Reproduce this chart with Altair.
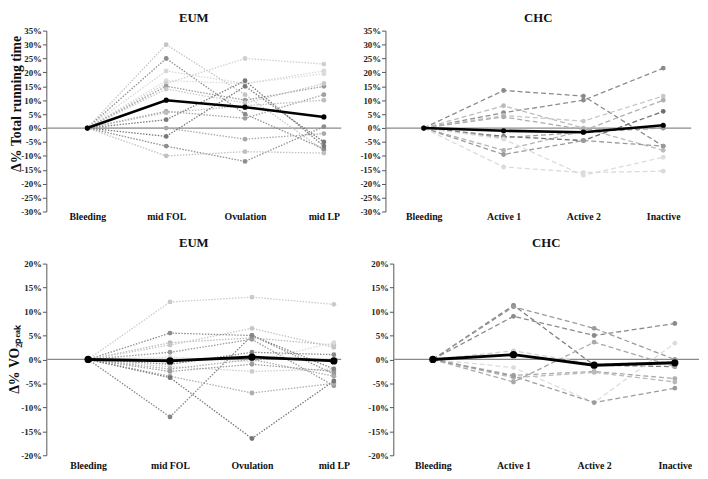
import json
import altair as alt
import pandas as pd

FONT = "Liberation Serif"

EUM_PHASES = ["Bleeding", "mid FOL", "Ovulation", "mid LP"]
CHC_PHASES = ["Bleeding", "Active 1", "Active 2", "Inactive"]

# Panel A: EUM, delta % total running time (one row per participant)
EUM_TIME = [
    [0, 30, 12, -8],
    [0, 25, 5, -7.5],
    [0, 20.5, 16, 20.5],
    [0, 17, 16, 19.5],
    [0, 16, 25, 23],
    [0, 15, 10, 15],
    [0, 14, 9, 16],
    [0, 6, 3.5, 12],
    [0, 5.5, 8, 10],
    [0, 3, 17, -6.5],
    [0, 0, -4, -2],
    [0, -3, 15, -5],
    [0, -6.5, -12, 0.5],
    [0, -10, -8.5, -9],
]
EUM_TIME_SHADE = ["#c4c4c4", "#8c8c8c", "#d8d8d8", "#dcdcdc", "#cfcfcf", "#9a9a9a",
                  "#c8c8c8", "#a0a0a0", "#bdbdbd", "#7a7a7a", "#a8a8a8", "#787878",
                  "#8e8e8e", "#c0c0c0"]
EUM_TIME_MEAN = [0, 10, 7.5, 4]

# Panel B: CHC, delta % total running time
CHC_TIME = [
    [0, 13.5, 11.5, -6.5],
    [0, 5.5, 10, 21.5],
    [0, 8, 0, -8],
    [0, 4.5, 2.5, 11.5],
    [0, 4, -0.5, 0],
    [0, -3, -4.5, 6],
    [0, -3.5, -1.5, 0],
    [0, -8, -1, 10],
    [0, -9.5, -4.5, -6.5],
    [0, -14, -16, -15.5],
    [0, -4, -17, -10.5],
]
CHC_TIME_SHADE = ["#8a8a8a", "#8c8c8c", "#bcbcbc", "#c8c8c8", "#acacac", "#6e6e6e",
                  "#9c9c9c", "#b0b0b0", "#9a9a9a", "#dadada", "#dddddd"]
CHC_TIME_MEAN = [0, -1, -1.5, 1]

# Panel C: EUM, delta % VO2peak
EUM_VO2 = [
    [0, 12, 13, 11.5],
    [0, 5.5, 5, -3],
    [0, 3.5, 4.5, 3],
    [0, 3, 6.5, 2.5],
    [0, 1.5, 4.2, -5.5],
    [0, 0.5, -0.5, 3.5],
    [0, -1, 1.5, 1],
    [0, -1.5, -2.5, -2],
    [0, -2, 0, -3.5],
    [0, -2.5, -1, -2.5],
    [0, -3.5, -7, -5],
    [0, -3.8, -16.5, -4.5],
    [0, -12, 5, -2],
]
EUM_VO2_SHADE = ["#cacaca", "#8c8c8c", "#bcbcbc", "#c6c6c6", "#9a9a9a", "#dadada",
                 "#8a8a8a", "#cccccc", "#aaaaaa", "#9c9c9c", "#adadad", "#767676",
                 "#858585"]
EUM_VO2_MEAN = [0, -0.3, 0.5, -0.3]

# Panel D: CHC, delta % VO2peak
CHC_VO2 = [
    [0, 11.3, -1.2, -1.5],
    [0, 11, 6.5, 0],
    [0, 9, 5, 7.5],
    [0, 1.8, -1, -0.5],
    [0, -1.7, -9, 3.4],
    [0, -3.3, -2.5, -4],
    [0, -3.8, -2.7, -4.7],
    [0, -4.7, 3.6, -1.5],
    [0, -3.5, -9, -6],
]
CHC_VO2_SHADE = ["#7e7e7e", "#9a9a9a", "#8a8a8a", "#d0d0d0", "#dcdcdc", "#ababab",
                 "#bababa", "#a8a8a8", "#9c9c9c"]
CHC_VO2_MEAN = [0, 1, -1.2, -0.7]

TIME_TICKS = list(range(-30, 36, 5))
VO2_TICKS = list(range(-20, 21, 5))


def panel(phases, series, shades, mean, dash, yticks, xdom, width, height,
          title, title_offset, label_pad, mean_width, mean_size, ytitle=None,
          title_x=None, title_y=None):
    rows = [{"sid": i, "x": j, "v": val, "shade": shades[i]}
            for i, s in enumerate(series) for j, val in enumerate(s)]
    df = pd.DataFrame(rows)
    mdf = pd.DataFrame({"x": list(range(len(mean))), "v": mean})
    zdf = pd.DataFrame({"v": [0]})

    x = alt.X("x:Q",
              scale=alt.Scale(domain=xdom, nice=False, zero=False),
              axis=alt.Axis(values=list(range(len(phases))),
                            labelExpr=f"{json.dumps(phases)}[datum.value]",
                            domain=False, ticks=False, tickSize=0, grid=False,
                            title=None, labelFont=FONT, labelFontWeight="bold",
                            labelFontSize=10, labelColor="#111",
                            labelPadding=label_pad, labelFlush=False,
                            labelOverlap=False))
    ykw = dict(values=yticks, labelExpr="datum.value + '%'", grid=False,
               domainColor="#555", tickColor="#555", tickSize=4,
               labelFont=FONT, labelFontWeight="bold", labelFontSize=9,
               labelColor="#222", labelPadding=1, labelOverlap=False,
               labelFlush=False, labelBound=False)
    if ytitle:
        ykw.update(title=ytitle, titleFont=FONT, titleFontSize=14,
                   titleFontWeight="bold", titleColor="#111",
                   titleX=title_x, titleY=title_y, titleAngle=270,
                   titleAlign="center", titleBaseline="bottom")
    else:
        ykw.update(title=None)
    y = alt.Y("v:Q", scale=alt.Scale(domain=[yticks[0], yticks[-1]], nice=False),
              axis=alt.Axis(**ykw))

    zero = alt.Chart(zdf).mark_rule(color="#8a8a8a", strokeWidth=1.3).encode(
        y=y, x=alt.datum(xdom[0]), x2=alt.datum(xdom[1]))
    lines = alt.Chart(df).mark_line(strokeDash=dash, strokeWidth=1.3).encode(
        x=x, y=y, detail="sid:N", color=alt.Color("shade:N", scale=None))
    pts = alt.Chart(df).mark_circle(size=24, opacity=1).encode(
        x=x, y=y, color=alt.Color("shade:N", scale=None))
    mline = alt.Chart(mdf).mark_line(color="black", strokeWidth=mean_width).encode(x=x, y=y)
    mpts = alt.Chart(mdf).mark_circle(color="black", size=mean_size, opacity=1).encode(x=x, y=y)

    return alt.layer(zero, lines, pts, mline, mpts).properties(
        width=width, height=height,
        title=alt.Title(title, font=FONT, fontSize=13, fontWeight="bold",
                        color="#111", offset=title_offset))


DOT = [1.5, 1.5]
DASH = [5, 3]

a = panel(EUM_PHASES, EUM_TIME, EUM_TIME_SHADE, EUM_TIME_MEAN, DOT, TIME_TICKS,
          [-0.52, 3.22], 300, 184, "EUM", 2, 0, 2.6, 28,
          ytitle="Δ% Total running time", title_x=-23, title_y=74)
b = panel(CHC_PHASES, CHC_TIME, CHC_TIME_SHADE, CHC_TIME_MEAN, DASH, TIME_TICKS,
          [-0.48, 3.35], 311, 184, "CHC", 2, 0, 2.6, 28)
c = panel(EUM_PHASES, EUM_VO2, EUM_VO2_SHADE, EUM_VO2_MEAN, DOT, VO2_TICKS,
          [-0.51, 3.09], 300, 195, "EUM", 10, 5, 3, 55,
          ytitle="Δ% VO₂ₚₑₐₖ", title_x=-25, title_y=97)
d = panel(CHC_PHASES, CHC_VO2, CHC_VO2_SHADE, CHC_VO2_MEAN, DASH, VO2_TICKS,
          [-0.49, 3.30], 311, 195, "CHC", 10, 5, 3, 55)

chart = alt.vconcat(
    alt.hconcat(a, b, spacing=18),
    alt.hconcat(c, d, spacing=18),
    spacing=16,
).properties(padding=0).configure_view(stroke=None)

chart.save("out.html", embed_options={"renderer": "svg", "actions": False})
